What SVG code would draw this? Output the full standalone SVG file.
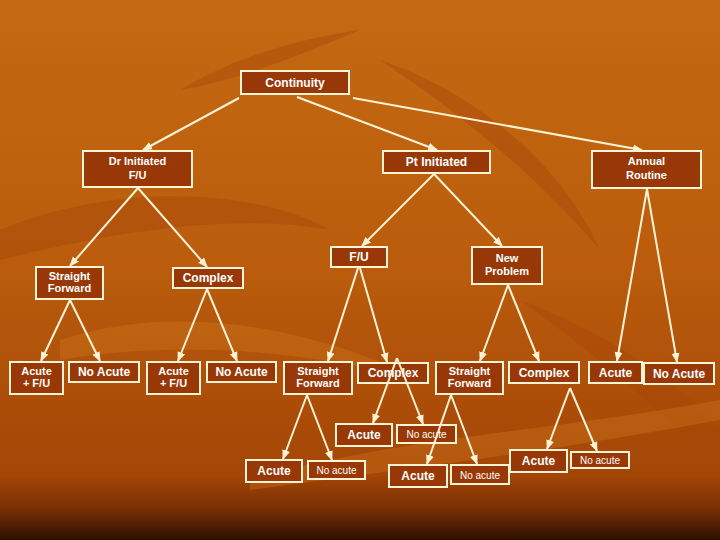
<svg xmlns="http://www.w3.org/2000/svg" width="720" height="540" viewBox="0 0 720 540">
<defs>
<linearGradient id="bg" x1="0" y1="0" x2="0" y2="1">
<stop offset="0" stop-color="#C46A12"/>
<stop offset="0.5" stop-color="#BA5C0C"/>
<stop offset="0.88" stop-color="#A44606"/>
<stop offset="0.94" stop-color="#7A3004"/>
<stop offset="1" stop-color="#2E1000"/>
</linearGradient>
<marker id="ah" markerUnits="userSpaceOnUse" markerWidth="10" markerHeight="10" viewBox="0 0 10 10" refX="9" refY="5" orient="auto">
<path d="M0,1 L10,5 L0,9 z" fill="#FFF3D6"/>
</marker>
<style>
.box{fill:#983806;stroke:#FFF3D6;stroke-width:2}
.t{font-family:"Liberation Sans",Arial,sans-serif;font-size:12px;font-weight:bold;fill:#FFFFFF;text-anchor:middle}
.t2{font-family:"Liberation Sans",Arial,sans-serif;font-size:11px;font-weight:bold;fill:#FFFFFF;text-anchor:middle}
.s{font-family:"Liberation Sans",Arial,sans-serif;font-size:10px;fill:#FFFFFF;text-anchor:middle}
.c line{stroke:#FFF3D6;stroke-width:2;marker-end:url(#ah)}
.leaf{fill:#A8480A;opacity:0.45}
.leaf2{fill:#D07C20;opacity:0.35}
</style>
</defs>
<rect width="720" height="540" fill="url(#bg)"/>
<g id="background-leaves">
<path class="leaf" d="M0,230 C120,180 260,190 330,230 C250,215 140,225 0,260 z"/>
<path class="leaf" d="M380,60 C470,90 560,160 600,250 C540,180 470,120 380,60 z"/>
<path class="leaf" d="M520,300 C600,330 680,380 720,430 L720,470 C660,410 590,350 520,300 z"/>
<path class="leaf2" d="M60,340 C180,300 320,330 420,380 C300,350 180,340 60,360 z"/>
<path class="leaf2" d="M250,480 C380,440 560,430 720,400 L720,420 C560,450 400,470 250,490 z"/>
<path class="leaf" d="M180,90 C230,60 290,40 360,30 C300,55 240,80 180,90 z"/>
</g>
<g id="n-continuity"><rect class="box" x="241" y="71" width="108" height="23"/><text class="t" x="295" y="87">Continuity</text></g>
<g id="n-dr"><rect class="box" x="83" y="151" width="109" height="36"/><text class="t2" x="137.5" y="165">Dr Initiated</text><text class="t2" x="137.5" y="179">F/U</text></g>
<g id="n-pt"><rect class="box" x="383" y="151" width="107" height="22"/><text class="t" x="436.5" y="166">Pt Initiated</text></g>
<g id="n-annual"><rect class="box" x="592" y="151" width="109" height="37"/><text class="t2" x="646.5" y="165">Annual</text><text class="t2" x="646.5" y="179">Routine</text></g>
<g id="n-sf1"><rect class="box" x="36" y="267" width="67" height="32"/><text class="t2" x="69.5" y="280">Straight</text><text class="t2" x="69.5" y="292">Forward</text></g>
<g id="n-cx1"><rect class="box" x="173" y="268" width="70" height="20"/><text class="t" x="208" y="282">Complex</text></g>
<g id="n-fu"><rect class="box" x="331" y="247" width="56" height="20"/><text class="t" x="359" y="261">F/U</text></g>
<g id="n-np"><rect class="box" x="472" y="247" width="70" height="37"/><text class="t2" x="507" y="262">New</text><text class="t2" x="507" y="275">Problem</text></g>
<g id="n-a1"><rect class="box" x="10" y="362" width="53" height="32"/><text class="t2" x="36.5" y="375">Acute</text><text class="t2" x="36.5" y="387">+ F/U</text></g>
<g id="n-na1"><rect class="box" x="69" y="362" width="70" height="20"/><text class="t" x="104" y="376">No Acute</text></g>
<g id="n-a2"><rect class="box" x="147" y="362" width="53" height="32"/><text class="t2" x="173.5" y="375">Acute</text><text class="t2" x="173.5" y="387">+ F/U</text></g>
<g id="n-na2"><rect class="box" x="207" y="362" width="69" height="20"/><text class="t" x="241.5" y="376">No Acute</text></g>
<g id="n-sf2"><rect class="box" x="284" y="362" width="68" height="32"/><text class="t2" x="318" y="375">Straight</text><text class="t2" x="318" y="387">Forward</text></g>
<g id="n-cx2"><rect class="box" x="358" y="363" width="70" height="20"/><text class="t" x="393" y="377">Complex</text></g>
<g id="n-sf3"><rect class="box" x="436" y="362" width="67" height="32"/><text class="t2" x="469.5" y="375">Straight</text><text class="t2" x="469.5" y="387">Forward</text></g>
<g id="n-cx3"><rect class="box" x="509" y="362" width="70" height="21"/><text class="t" x="544" y="377">Complex</text></g>
<g id="n-a3"><rect class="box" x="589" y="362" width="53" height="21"/><text class="t" x="615.5" y="377">Acute</text></g>
<g id="n-na3"><rect class="box" x="644" y="363" width="70" height="21"/><text class="t" x="679" y="378">No Acute</text></g>
<g id="n-a4"><rect class="box" x="336" y="424" width="56" height="22"/><text class="t" x="364" y="439">Acute</text></g>
<g id="n-na4"><rect class="box" x="397" y="425" width="59" height="18"/><text class="s" x="426.5" y="438">No acute</text></g>
<g id="n-a5"><rect class="box" x="246" y="460" width="56" height="22"/><text class="t" x="274" y="475">Acute</text></g>
<g id="n-na5"><rect class="box" x="308" y="461" width="57" height="18"/><text class="s" x="336.5" y="474">No acute</text></g>
<g id="n-a6"><rect class="box" x="389" y="465" width="58" height="22"/><text class="t" x="418" y="480">Acute</text></g>
<g id="n-na6"><rect class="box" x="451" y="465" width="58" height="19"/><text class="s" x="480" y="479">No acute</text></g>
<g id="n-a7"><rect class="box" x="510" y="450" width="57" height="22"/><text class="t" x="538.5" y="465">Acute</text></g>
<g id="n-na7"><rect class="box" x="571" y="452" width="58" height="16"/><text class="s" x="600" y="464">No acute</text></g>
<g id="connectors" class="c">
<line x1="239" y1="98" x2="143" y2="150"/>
<line x1="297" y1="97" x2="437" y2="150"/>
<line x1="353" y1="98" x2="642" y2="150"/>
<line x1="138" y1="188" x2="70" y2="266"/>
<line x1="138" y1="188" x2="207" y2="267"/>
<line x1="70" y1="300" x2="41" y2="361"/>
<line x1="70" y1="300" x2="100" y2="361"/>
<line x1="207" y1="289" x2="178" y2="361"/>
<line x1="207" y1="289" x2="237" y2="361"/>
<line x1="434" y1="174" x2="362" y2="246"/>
<line x1="434" y1="174" x2="502" y2="246"/>
<line x1="358" y1="268" x2="328" y2="361"/>
<line x1="360" y1="268" x2="387" y2="362"/>
<line x1="508" y1="285" x2="480" y2="361"/>
<line x1="508" y1="285" x2="539" y2="361"/>
<line x1="647" y1="189" x2="617" y2="361"/>
<line x1="647" y1="189" x2="677" y2="362"/>
<line x1="397" y1="358" x2="373" y2="423"/>
<line x1="397" y1="358" x2="423" y2="424"/>
<line x1="307" y1="395" x2="283" y2="459"/>
<line x1="307" y1="395" x2="332" y2="460"/>
<line x1="451" y1="395" x2="427" y2="464"/>
<line x1="451" y1="395" x2="477" y2="464"/>
<line x1="570" y1="388" x2="547" y2="449"/>
<line x1="570" y1="388" x2="597" y2="451"/>
</g>
</svg>
